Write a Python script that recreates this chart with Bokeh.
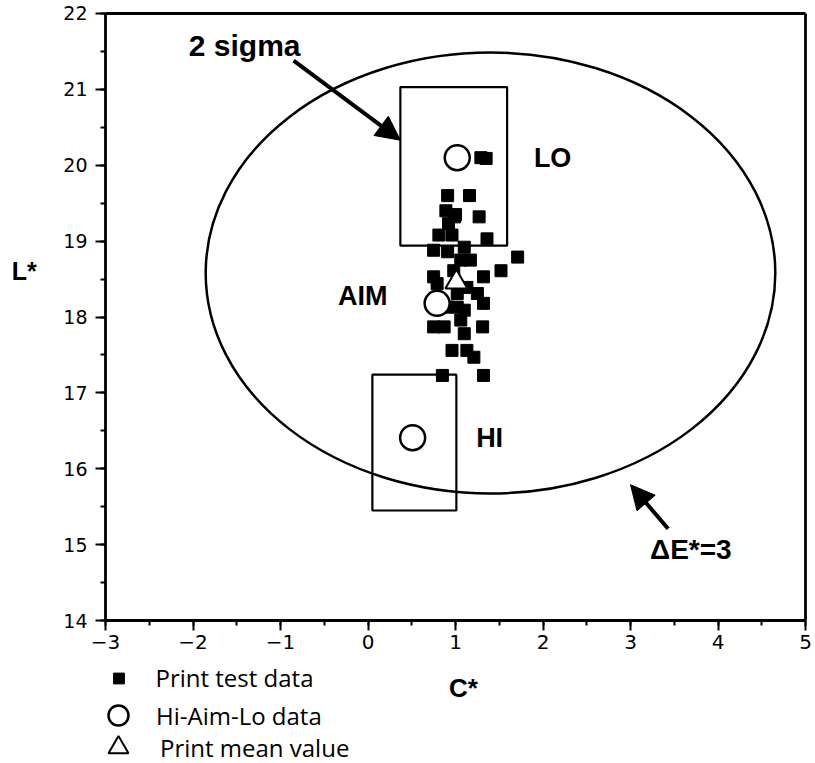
from bokeh.plotting import figure
from bokeh.models import (Range1d, SingleIntervalTicker, Label, Arrow, NormalHead,
                          Legend, LegendItem)
from bokeh.embed import file_html
from bokeh.resources import INLINE

# ---------------- data ----------------
test_c = [1.29, 1.35, 0.91, 1.16, 0.89, 0.99, 0.92, 1.27, 0.81, 0.96, 1.36, 0.75,
          0.91, 1.10, 1.17, 1.71, 1.52, 1.32, 1.06, 0.79, 0.75, 1.13, 1.32, 1.25,
          1.10, 0.75, 0.87, 1.06, 1.31, 1.10, 0.96, 1.13, 1.21, 0.85, 1.32, 0.98,
          1.02, 1.02, 0.91, 1.00]
test_l = [20.10, 20.09, 19.60, 19.60, 19.40, 19.32, 19.23, 19.32, 19.08, 19.08, 19.03, 18.88,
          18.86, 18.92, 18.75, 18.79, 18.61, 18.53, 18.75, 18.44, 18.53, 18.39, 18.18, 18.31,
          18.09, 17.87, 17.87, 17.96, 17.87, 17.78, 17.56, 17.56, 17.47, 17.23, 17.23, 18.61,
          18.31, 18.13, 18.13, 19.35]

ref_names = ["HI", "AIM", "LO"]
ref_c = [0.51, 0.79, 1.02]
ref_l = [16.41, 18.18, 20.10]

mean_c = [1.01]
mean_l = [18.46]

box_left = [0.37, 0.05]
box_right = [1.59, 1.01]
box_bottom = [18.94, 15.45]
box_top = [21.03, 17.24]

de_center_c = [1.40]
de_center_l = [18.58]
de_width = [6.51]
de_height = [5.81]

x_axis_span = (-3, 5)
y_axis_span = (14, 22)

# ---------------- figure ----------------
# plot area fills the whole canvas; axes are pinned at C*=-3 and L*=14
px_x, px_y = 87.5, 75.9          # pixels per unit
x_range = Range1d(x_axis_span[0] - 105 / px_x, x_axis_span[1] + 10 / px_x)
y_range = Range1d(y_axis_span[0] - 143 / px_y, y_axis_span[1] + 13 / px_y)

p = figure(width=815, height=763, output_backend="svg", toolbar_location=None,
           x_range=x_range, y_range=y_range,
           min_border_left=0, min_border_right=0, min_border_top=0,
           min_border_bottom=0)
p.background_fill_color = "white"
p.border_fill_color = "white"
p.outline_line_color = None
p.grid.visible = False

p.xaxis.fixed_location = y_axis_span[0]
p.yaxis.fixed_location = x_axis_span[0]
p.xaxis.bounds = x_axis_span
p.yaxis.bounds = y_axis_span

for ax in (p.xaxis[0], p.yaxis[0]):
    ax.ticker = SingleIntervalTicker(interval=1, num_minor_ticks=2)
    ax.axis_line_width = 2.8
    ax.axis_line_color = "black"
    ax.major_tick_line_width = 2
    ax.minor_tick_line_width = 2
    ax.major_tick_out = 10
    ax.major_tick_in = 0
    ax.minor_tick_out = 5
    ax.minor_tick_in = 0
    ax.major_label_text_font = "DejaVu Sans"
    ax.major_label_text_color = "black"

p.xaxis.major_label_text_font_size = "20px"
p.xaxis.major_label_standoff = 4
p.yaxis.major_label_text_font_size = "19px"
p.yaxis.major_label_standoff = 8

# top and right frame lines
p.segment(x0=[x_axis_span[0], x_axis_span[1]], y0=[y_axis_span[1], y_axis_span[0]],
          x1=[x_axis_span[1], x_axis_span[1]], y1=[y_axis_span[1], y_axis_span[1]],
          line_color="black", line_width=2.8)

# ellipse (Delta E* = 3)
p.ellipse(x=de_center_c, y=de_center_l, width=de_width, height=de_height,
          fill_color=None, line_color="black", line_width=2.5)

# 2 sigma boxes
p.quad(left=box_left, right=box_right, bottom=box_bottom, top=box_top,
       fill_color=None, line_color="black", line_width=2.2)

# print test data
r_sq = p.scatter(x=test_c, y=test_l, marker="square", size=12,
                 fill_color="black", line_color="black")

# mean
r_tri = p.scatter(x=mean_c, y=mean_l, marker="triangle", size=22,
                  fill_color="white", line_color="black", line_width=2)

# Hi-Aim-Lo
r_circ = p.scatter(x=ref_c, y=ref_l, marker="circle", size=25,
                   fill_color="white", line_color="black", line_width=2.5)

# ---------------- annotations ----------------
def lab(text, x, y, size, bold=True, align="center"):
    p.add_layout(Label(x=x, y=y, text=text, text_font="Liberation Sans",
                       text_font_size=size, text_font_style="bold" if bold else "normal",
                       text_align=align, text_baseline="middle", text_color="black"))

lab("2 sigma", -1.41, 21.58, "30px")
lab("LO", 2.11, 20.10, "27px")
lab("AIM", -0.06, 18.28, "27px")
lab("HI", 1.39, 16.41, "27px")
lab("\u0394E*=3", 3.69, 14.94, "28px")
lab("L*", -3.93, 18.60, "25px")
lab("C*", 1.09, 13.11, "26px")

p.add_layout(Arrow(end=NormalHead(size=24, fill_color="black", line_color="black"),
                   x_start=-0.85, y_start=21.38, x_end=0.37, y_end=20.33,
                   line_width=4, line_color="black"))
p.add_layout(Arrow(end=NormalHead(size=24, fill_color="black", line_color="black"),
                   x_start=3.43, y_start=15.21, x_end=3.0, y_end=15.79,
                   line_width=4, line_color="black"))

# ---------------- legends (below the axes) ----------------
def leg(label, rend, gw, gh, loc, standoff):
    lg = Legend(items=[LegendItem(label=label, renderers=[rend])],
                location=loc, glyph_width=gw, glyph_height=gh, label_standoff=standoff,
                padding=0, margin=0, spacing=0, border_line_color=None,
                background_fill_alpha=0, label_text_font="Open Sans",
                label_text_font_size="24px", label_text_color="black",
                label_height=gh)
    p.add_layout(lg)

leg("Print test data", r_sq, 27, 30, (104.5, 69), 24)
leg("Hi-Aim-Lo data", r_circ, 50, 50, (93, 23), 13)
leg("Print mean value", r_tri, 50, 50, (93, -9), 17)

open("out.html", "w").write(file_html(p, INLINE))
